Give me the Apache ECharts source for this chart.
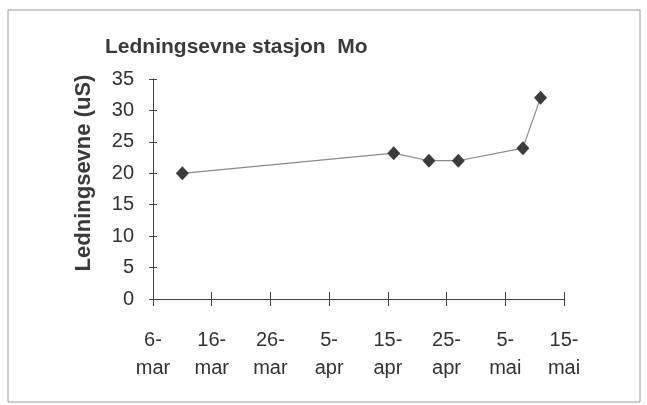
<!DOCTYPE html>
<html>
<head>
<meta charset="utf-8">
<script src="https://cdn.jsdelivr.net/npm/echarts@6/dist/echarts.min.js"></script>
<style>html,body{margin:0;padding:0;background:#fff}#c{width:647px;height:405px}</style>
</head>
<body>
<div id="c"></div>
<script>
// Data (month-day of each measurement, conductivity in uS)
var measureDates = ['03-11', '04-16', '04-22', '04-27', '05-08', '05-11'];
var conductivity = [20, 23.2, 22, 22, 24, 32];
var xTickLabels = ['6-\nmar', '16-\nmar', '26-\nmar', '5-\napr', '15-\napr', '25-\napr', '5-\nmai', '15-\nmai'];
var startDate = '03-06';
var yTicks = [0, 5, 10, 15, 20, 25, 30, 35];

function dayOffset(md) {
  var p = md.split('-'), s = startDate.split('-');
  var d = Date.UTC(2001, +p[0] - 1, +p[1]);
  var d0 = Date.UTC(2001, +s[0] - 1, +s[1]);
  return Math.round((d - d0) / 86400000);
}
var seriesData = measureDates.map(function (d, i) { return [dayOffset(d), conductivity[i]]; });

var FONT = 'Liberation Sans, Arial, Helvetica, sans-serif';
var chart = echarts.init(document.getElementById('c'), null, { renderer: 'canvas' });
var lineCol = '#444';
var xMax = (xTickLabels.length - 1) * 10;
var yMax = yTicks[yTicks.length - 1];

chart.setOption({
  animation: false,
  backgroundColor: '#fff',
  title: {
    text: 'Ledningsevne stasjon  Mo',
    left: 100, top: 31,
    textStyle: { fontFamily: FONT, fontSize: 21, fontWeight: 'bold', color: '#3a3a3a', lineHeight: 22 }
  },
  graphic: [{
    type: 'rect', shape: { x: 8, y: 10, width: 632, height: 392 },
    style: { fill: 'none', stroke: '#9a9a9a', lineWidth: 1 }, silent: true
  }],
  grid: { left: 153, right: 83, top: 79, bottom: 106, containLabel: false },
  xAxis: [{
    type: 'value', min: 0, max: xMax, interval: 10,
    axisLine: { show: true, lineStyle: { color: lineCol, width: 1 } },
    axisTick: { show: true, length: 7, lineStyle: { color: lineCol } },
    splitLine: { show: false },
    axisLabel: {
      fontFamily: FONT, fontSize: 20, color: '#333', lineHeight: 28, margin: 27,
      formatter: function (v) { return xTickLabels[Math.round(v / 10)] || ''; }
    }
  }, {
    type: 'value', min: 0, max: xMax, interval: 10, position: 'bottom',
    axisLine: { show: false }, axisLabel: { show: false }, splitLine: { show: false },
    axisTick: { show: true, inside: true, length: 7, lineStyle: { color: lineCol } }
  }],
  yAxis: [{
    type: 'value', min: 0, max: yMax, interval: 5,
    name: 'Ledningsevne (uS)', nameLocation: 'middle', nameGap: 58, nameRotate: 90,
    nameTextStyle: { fontFamily: FONT, fontSize: 22, fontWeight: 'bold', color: '#3a3a3a', padding: [0, 0, 0, 32] },
    axisLine: { show: true, lineStyle: { color: lineCol, width: 1 } },
    axisTick: { show: true, length: 4, lineStyle: { color: lineCol } },
    splitLine: { show: false },
    axisLabel: { fontFamily: FONT, fontSize: 20, color: '#333', margin: 19 }
  }, {
    type: 'value', min: 0, max: yMax, interval: 5, position: 'left',
    axisLine: { show: false }, axisLabel: { show: false }, splitLine: { show: false },
    axisTick: { show: true, inside: true, length: 4, lineStyle: { color: lineCol } }
  }],
  series: [{
    type: 'line',
    xAxisIndex: 0, yAxisIndex: 0,
    data: seriesData,
    symbol: 'diamond',
    symbolSize: [13, 14],
    itemStyle: { color: '#3c3c3c' },
    lineStyle: { color: '#8a8a8a', width: 1.2 }
  }]
});
</script>
</body>
</html>
